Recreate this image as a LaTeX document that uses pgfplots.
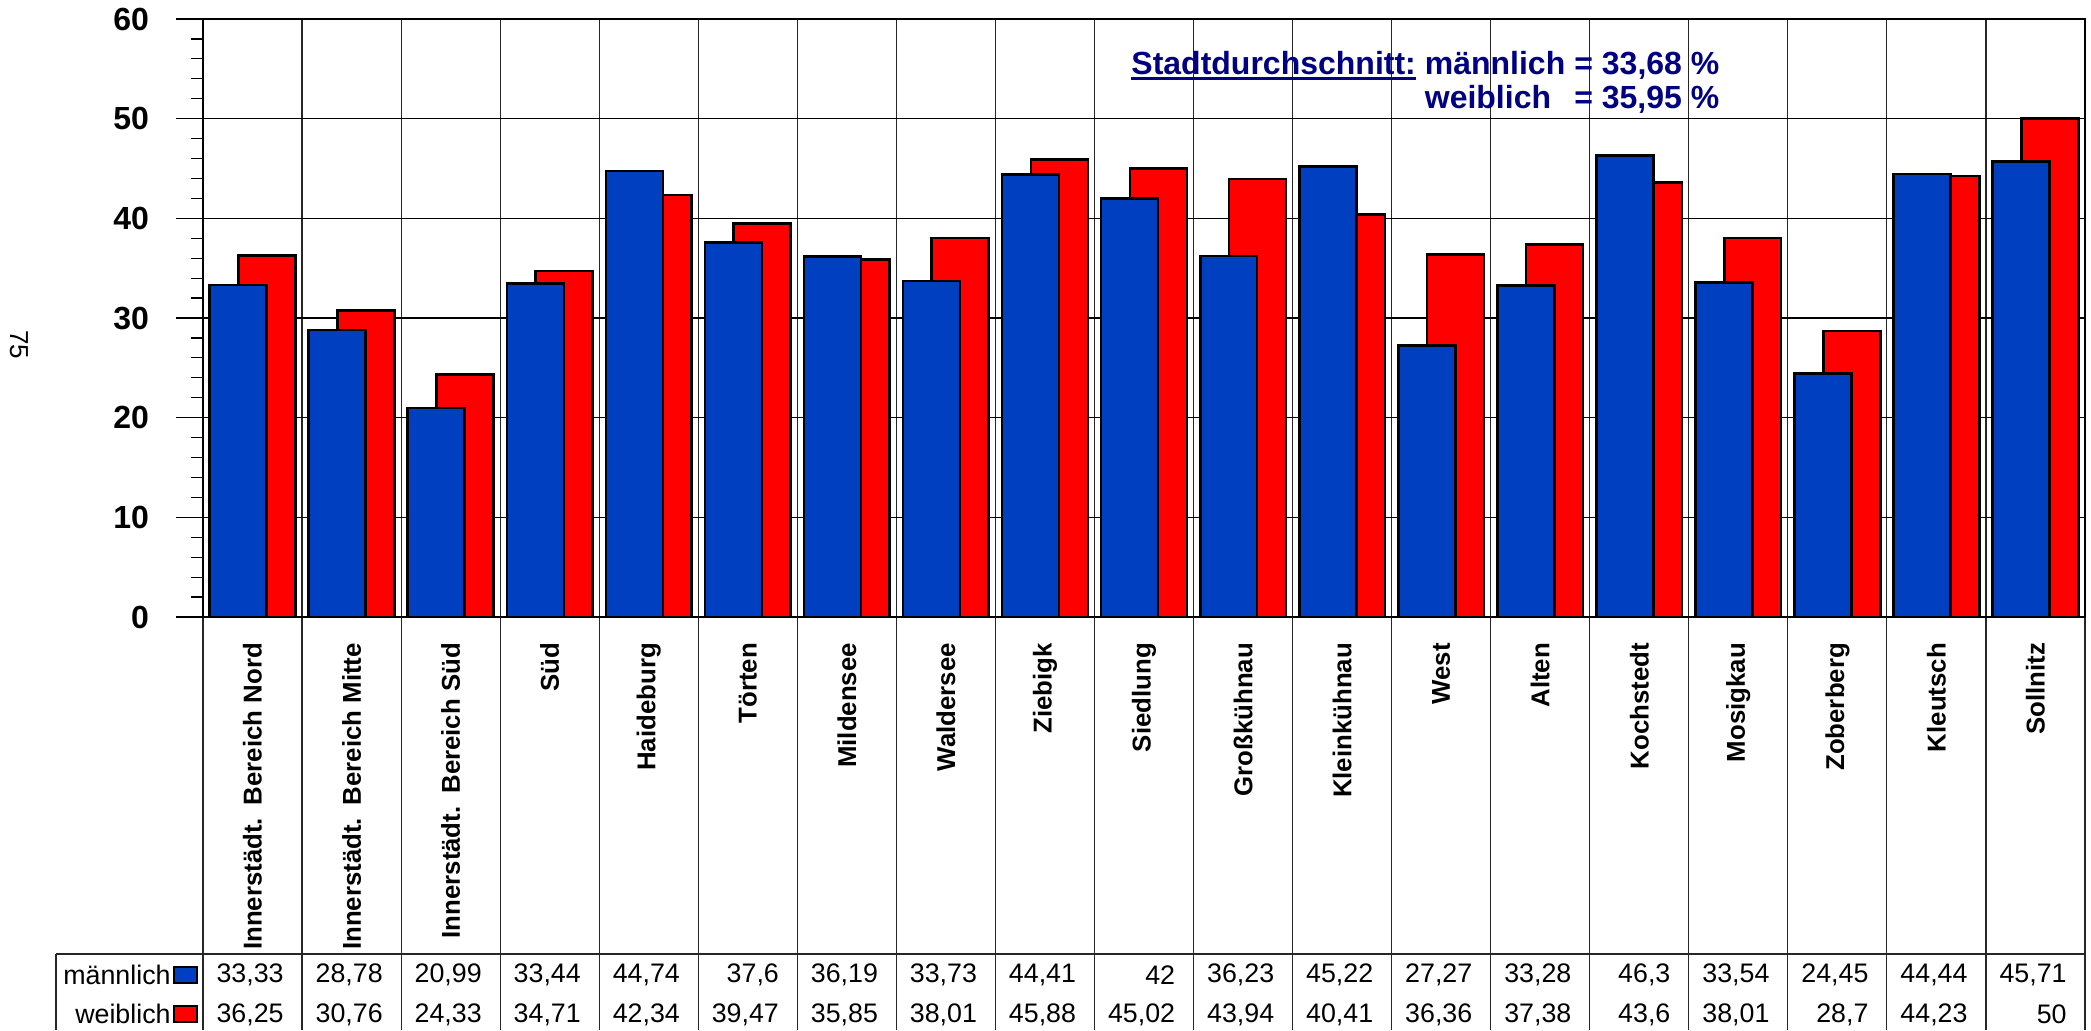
\documentclass[border=0pt]{standalone}
\usepackage{pgfplots}
\usepackage{pgfplotstable}
\pgfplotsset{compat=1.18}
\usepackage{fontspec}
\setmainfont{Liberation Sans}

\definecolor{mblue}{RGB}{0,64,192}
\definecolor{wred}{RGB}{255,0,0}
\definecolor{navytext}{RGB}{0,0,128}

\newcommand\thickul[1]{\setbox0\hbox{#1}\rlap{\rule[-3pt]{\wd0}{1.4pt}}\box0}

% i = Stadtteil, m = maennlich, w = weiblich
\pgfplotstableread{
i m w
0 33.33 36.25
1 28.78 30.76
2 20.99 24.33
3 33.44 34.71
4 44.74 42.34
5 37.6 39.47
6 36.19 35.85
7 33.73 38.01
8 44.41 45.88
9 42 45.02
10 36.23 43.94
11 45.22 40.41
12 27.27 36.36
13 33.28 37.38
14 46.3 43.6
15 33.54 38.01
16 24.45 28.7
17 44.44 44.23
18 45.71 50
}\data

\begin{document}
\begin{tikzpicture}
\useasboundingbox (0,0) rectangle (1045.5pt,515pt);

% table grid and column lines (pixel coordinates, y downwards)
\begin{scope}[x=0.5pt, y=-0.5pt, yshift=515pt]
  \foreach \k in {1,...,18}
    \draw[black!85, line width=0.6pt] ({203+\k*99.05},19) -- ({203+\k*99.05},1030);
  \draw[black!85, line width=0.6pt] (203,617) -- (203,1030);
  \draw[black!85, line width=0.6pt] (2085,617) -- (2085,1030);
  \draw[black!85, line width=0.6pt] (56,954) -- (2085,954);
  \draw[black!85, line width=0.6pt] (56,954) -- (56,1030);
\end{scope}

\begin{axis}[
    at={(101.5pt,206.5pt)}, anchor=south west,
    scale only axis, width=941pt, height=299pt,
    xmin=-0.5, xmax=18.5, ymin=0, ymax=60,
    clip=false,
    axis line style={line width=1.2pt},
    xtick={0,...,18},
    xticklabels={Innerstädt.\hspace{0.5em}Bereich Nord, Innerstädt.\hspace{0.5em}Bereich Mitte,
        Innerstädt.\hspace{0.5em}Bereich Süd,
        Süd, Haideburg, Törten, Mildensee, Waldersee, Ziebigk, Siedlung, Großkühnau,
        Kleinkühnau, West, Alten, Kochstedt, Mosigkau, Zoberberg, Kleutsch, Sollnitz},
    xtick style={draw=none},
    xtick align=inside,
    xticklabel shift=9.5pt,
    xticklabel style={rotate=90, anchor=east, font=\bfseries\fontsize{12.9}{15}\selectfont},
    ytick={0,10,...,60},
    minor y tick num=4,
    ytick pos=left,
    ytick align=outside,
    major tick length=13.5pt,
    minor tick length=6pt,
    every tick/.style={black, line width=0.6pt},
    ymajorgrids,
    major grid style={black, line width=0.6pt},
    yticklabel={\pgfmathprintnumber{\tick}},
    yticklabel shift=10pt,
    yticklabel style={font=\bfseries\fontsize{16}{18}\selectfont},
    /pgf/number format/assume math mode=true,
    /pgf/number format/use comma,
  ]
  \addplot[ybar, bar width=0.575, bar shift=0.145, fill=wred, draw=black, line width=1.3pt]
    table[x=i, y=w] {\data};
  \addplot[ybar, bar width=0.575, bar shift=-0.145, fill=mblue, draw=black, line width=1.3pt]
    table[x=i, y=m] {\data};
  % values in the data table below the chart
  \addplot[draw=none, mark=none, point meta=explicit,
      nodes near coords={\pgfmathprintnumber{\pgfplotspointmeta}},
      every node near coord/.append style={anchor=east, inner sep=0pt, black,
        font=\fontsize{13.4}{15}\selectfont}]
    table[x expr=\thisrow{i}+0.318, y expr=-35.92, meta=m] {\data};
  \addplot[draw=none, mark=none, point meta=explicit,
      nodes near coords={\pgfmathprintnumber{\pgfplotspointmeta}},
      every node near coord/.append style={anchor=east, inner sep=0pt, black,
        font=\fontsize{13.4}{15}\selectfont}]
    table[x expr=\thisrow{i}+0.318, y expr=-39.9, meta=w] {\data};
\end{axis}

\begin{scope}[x=0.5pt, y=-0.5pt, yshift=515pt]
  % legend in the table
  \node[anchor=east, inner sep=0pt, font=\fontsize{13.4}{15}\selectfont] at (171,975) {männlich};
  \node[anchor=east, inner sep=0pt, font=\fontsize{13.4}{15}\selectfont] at (171,1014) {weiblich};
  \draw[fill=mblue, line width=0.9pt] (174,967) rectangle (197,983);
  \draw[fill=wred, line width=0.9pt] (174,1006) rectangle (197,1022);
  % city average
  \node[anchor=north west, inner sep=0pt, text=navytext,
        font=\bfseries\fontsize{16}{17}\selectfont] at (1131,50) {%
    \begin{tabular}{@{}l@{\hspace{4.5pt}}l@{\hspace{4.5pt}}l@{}}
      \thickul{Stadtdurchschnitt:} & männlich & = 33,68 \% \\
       & weiblich & = 35,95 \%
    \end{tabular}};
  % page number
  \node[rotate=-90, font=\fontsize{13}{15}\selectfont] at (19,345) {75};
\end{scope}
\end{tikzpicture}
\end{document}
